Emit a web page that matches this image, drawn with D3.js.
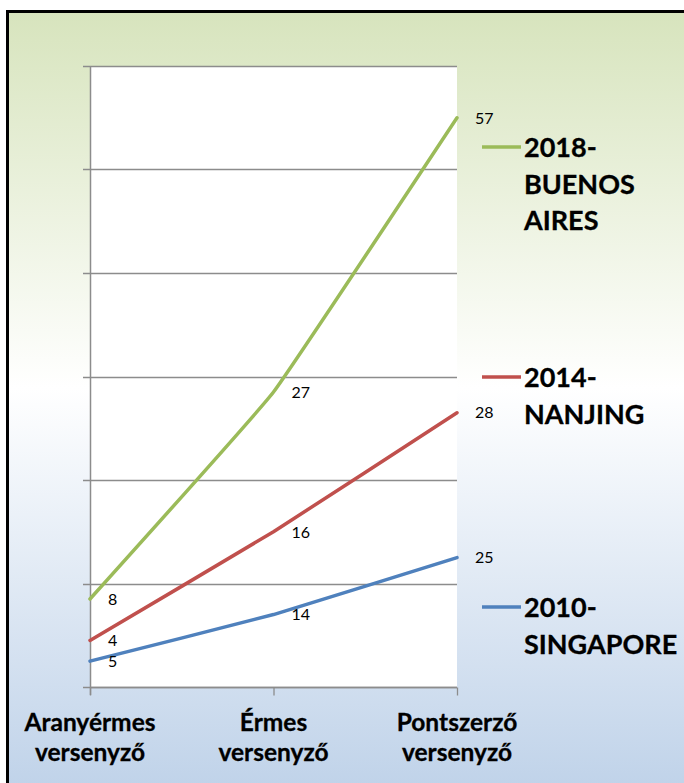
<!DOCTYPE html>
<html>
<head>
<meta charset="utf-8">
<script src="https://cdn.jsdelivr.net/npm/d3@7"></script>
<style>
  html, body { margin: 0; padding: 0; background: #ffffff; }
  svg { display: block; }
</style>
</head>
<body>
<svg id="chart" width="684" height="783"></svg>
<script>
// ---- data ----
const categories = ["Aranyérmes versenyző", "Érmes versenyző", "Pontszerző versenyző"];
const categoryLines = [["Aranyérmes", "versenyző"], ["Érmes", "versenyző"], ["Pontszerző", "versenyző"]];
const seriesNames = ["2010- SINGAPORE", "2014- NANJING", "2018- BUENOS AIRES"];
const legendLines = [["2010-", "SINGAPORE"], ["2014-", "NANJING"], ["2018-", "BUENOS", "AIRES"]];
const singapore = [5, 14, 25];
const nanjing = [4, 16, 28];
const buenosAires = [8, 27, 57];
const yTicks = [0, 20, 40, 60, 80, 100, 120];
const seriesColors = ["#4f81bd", "#c0504d", "#9bbb59"];

// ---- build table and stack ----
const table = categories.map((c, i) => ({
  cat: c,
  [seriesNames[0]]: singapore[i],
  [seriesNames[1]]: nanjing[i],
  [seriesNames[2]]: buenosAires[i]
}));
const stacked = d3.stack().keys(seriesNames)(table);

const svg = d3.select("#chart");

// background gradient frame
const defs = svg.append("defs");
const grad = defs.append("linearGradient").attr("id", "bg").attr("x1", 0).attr("y1", 0).attr("x2", 0).attr("y2", 1);
grad.append("stop").attr("offset", "0%").attr("stop-color", "#d7e4bd");
grad.append("stop").attr("offset", "47%").attr("stop-color", "#ffffff");
grad.append("stop").attr("offset", "100%").attr("stop-color", "#bcd0e8");

svg.append("rect")
  .attr("x", 7.5).attr("y", 11.5).attr("width", 720).attr("height", 800)
  .attr("fill", "url(#bg)").attr("stroke", "#000").attr("stroke-width", 3);

// scales
const x = d3.scalePoint().domain(categories).range([90, 457]);
const y = d3.scaleLinear().domain([0, 120]).range([687, 66]);

// plot area
svg.append("rect")
  .attr("x", x.range()[0]).attr("y", y(120))
  .attr("width", x.range()[1] - x.range()[0]).attr("height", y(0) - y(120))
  .attr("fill", "#ffffff");

// gridlines (with tick stubs to the left)
svg.append("g").selectAll("line").data(yTicks).join("line")
  .attr("x1", x.range()[0] - 7).attr("x2", x.range()[1])
  .attr("y1", d => Math.round(y(d)) + 0.5).attr("y2", d => Math.round(y(d)) + 0.5)
  .attr("stroke", "#8c8c8c").attr("stroke-width", 1.3);

// y axis line
svg.append("line")
  .attr("x1", 90.5).attr("x2", 90.5).attr("y1", y(120)).attr("y2", y(0) + 8)
  .attr("stroke", "#8c8c8c").attr("stroke-width", 1.5);

// x axis via d3.axisBottom
const xAxis = svg.append("g")
  .attr("transform", `translate(0,${Math.round(y(0)) + 0.5})`)
  .call(d3.axisBottom(x).tickSize(8).tickFormat(""));
xAxis.select(".domain").attr("stroke", "#8c8c8c").attr("stroke-width", 1.3)
  .attr("d", `M${x.range()[0]},0H${x.range()[1]}`);
xAxis.selectAll(".tick line").attr("stroke", "#8c8c8c").attr("stroke-width", 1.3);

// category labels
const catG = svg.append("g");
categories.forEach((c, i) => {
  const t = catG.append("text")
    .attr("x", x(c)).attr("text-anchor", "middle")
    .attr("font-family", "Lato, 'Open Sans', sans-serif")
    .attr("font-weight", "bold").attr("font-size", 24.5).attr("fill", "#000")
    .attr("stroke", "#000").attr("stroke-width", 0.3);
  categoryLines[i].forEach((ln, j) => {
    t.append("tspan").attr("x", x(c)).attr("y", 731 + j * 29.5).text(ln);
  });
});

// lines
const line = d3.line()
  .x(d => x(d.data.cat))
  .y(d => y(d[1]))
  .curve(d3.curveCardinal.tension(0.75));

svg.append("g").selectAll("path").data(stacked).join("path")
  .attr("d", s => line(s))
  .attr("fill", "none")
  .attr("stroke", (s, i) => seriesColors[i])
  .attr("stroke-width", 3.5)
  .attr("stroke-linecap", "round")
  .attr("stroke-linejoin", "round");

// data labels
const vals = [singapore, nanjing, buenosAires];
stacked.forEach((s, i) => {
  svg.append("g").selectAll("text").data(s).join("text")
    .attr("x", d => x(d.data.cat) + 18)
    .attr("y", d => y(d[1]))
    .attr("dy", "0.36em")
    .attr("font-family", "Lato, 'Open Sans', sans-serif")
    .attr("font-size", 16).attr("fill", "#000")
    .text((d, j) => vals[i][j]);
});

// legend
const legendY = [607, 377, 147];
legendLines.forEach((lines, i) => {
  const g = svg.append("g");
  g.append("line")
    .attr("x1", 482).attr("x2", 521)
    .attr("y1", legendY[i]).attr("y2", legendY[i])
    .attr("stroke", seriesColors[i]).attr("stroke-width", 3.5);
  const t = g.append("text")
    .attr("font-family", "Lato, 'Open Sans', sans-serif")
    .attr("font-weight", "bold").attr("font-size", 27).attr("fill", "#000")
    .attr("stroke", "#000").attr("stroke-width", 0.3);
  lines.forEach((ln, j) => {
    t.append("tspan").attr("x", 524).attr("y", legendY[i] + 10 + j * 36.5).text(ln);
  });
});
</script>
</body>
</html>
